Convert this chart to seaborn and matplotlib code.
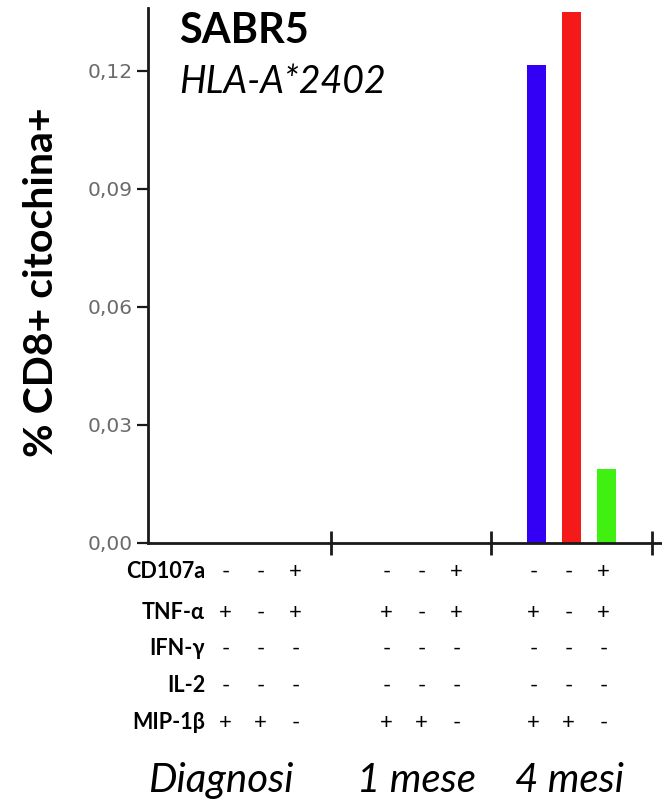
import matplotlib
matplotlib.use("Agg")
import matplotlib.pyplot as plt
import seaborn as sns
import pandas as pd
import numpy as np

# ---------------- data ----------------
groups = ["Diagnosi", "1 mese", "4 mesi"]
combos = ["TNF+MIP", "MIP", "CD107a+TNF"]
diagnosi_vals = [0.0, 0.0, 0.0]
mese1_vals = [0.0, 0.0, 0.0]
mesi4_vals = [0.1215, 0.135, 0.0188]
row_labels = ["CD107a", "TNF-\u03b1", "IFN-\u03b3", "IL-2", "MIP-1\u03b2"]
combo_signs = [["-", "+", "-", "-", "+"],
               ["-", "-", "-", "-", "+"],
               ["+", "+", "-", "-", "-"]]
ytick_vals = [0.00, 0.03, 0.06, 0.09, 0.12]
ytick_labels = ["0,00", "0,03", "0,06", "0,09", "0,12"]
bar_colors = ["#3300f5", "#f41a1a", "#40f010"]

# ---------------- layout ----------------
group_starts = [2.3, 6.9, 11.1]          # slot position of first combination in each group
group_ticks = [5.23, 9.8, 14.4]
group_label_x = [2.09, 7.66, 12.06]
row_y = [-0.065, -0.142, -0.209, -0.278, -0.347]   # axes fraction baselines

sns.set_style("white")
plt.rcParams["font.family"] = ["Lato", "DejaVu Sans"]
plt.rcParams["text.color"] = "black"

values = [diagnosi_vals, mese1_vals, mesi4_vals]
rows = []
for gi, g in enumerate(groups):
    for ci, c in enumerate(combos):
        rows.append({"group": g, "combo": c, "pos": group_starts[gi] + ci,
                     "value": values[gi][ci]})
df = pd.DataFrame(rows)

fig = plt.figure(figsize=(6.62, 8.02), dpi=100)
ax = fig.add_axes([148 / 662, 259 / 802, 1 - 148 / 662, 535 / 802])

sns.barplot(data=df, x="pos", y="value", hue="combo", hue_order=combos,
            palette=bar_colors, saturation=1, native_scale=True, dodge=False,
            legend=False, width=0.543, linewidth=0, errorbar=None, ax=ax)

ax.set_xlim(0, 14.69)
ax.set_ylim(0, 0.136)
ax.set_xlabel("")
ax.set_ylabel("")

for s in ["top", "right"]:
    ax.spines[s].set_visible(False)
for s in ["left", "bottom"]:
    ax.spines[s].set_linewidth(2)
    ax.spines[s].set_color("#1a1a1a")

ax.set_yticks(ytick_vals)
ax.set_yticklabels(ytick_labels, family="DejaVu Sans", fontsize=14.5, color="#6a6a6a")
ax.tick_params(axis="y", direction="out", length=8, width=1.6, color="#1a1a1a", pad=3, left=True)
ax.set_xticks(group_ticks)
ax.set_xticklabels([])
ax.tick_params(axis="x", direction="inout", length=17, width=2, color="#1a1a1a", bottom=True)

tr = ax.get_xaxis_transform()
# row labels
for ri, lab in enumerate(row_labels):
    ax.text(1.63, row_y[ri], lab, transform=tr, ha="right", va="baseline",
            fontsize=15.5, fontweight="bold", family=["Lato", "DejaVu Sans"])
# +/- signs
for gi in range(len(groups)):
    for ci in range(len(combos)):
        for ri in range(len(row_labels)):
            ax.text(group_starts[gi] + ci - 0.08, row_y[ri], combo_signs[ci][ri],
                    transform=tr, ha="center", va="baseline", fontsize=16)
# group labels
for gi, g in enumerate(groups):
    ax.text(group_label_x[gi], -0.465, g, transform=tr, ha="center", va="baseline",
            fontsize=29, fontstyle="italic")

# titles
ax.text(0.89, 0.935, "SABR5", transform=tr,
        ha="left", va="baseline", fontsize=30, fontweight="bold")
ax.text(0.89, 0.841, "HLA-A*2402", transform=tr, ha="left", va="baseline",
        fontsize=27, fontstyle="italic")

fig.text(42 / 662, 1 - 282 / 802, "% CD8+ citochina+", rotation=90,
         ha="center", va="center", fontsize=29.5, fontweight="bold")

fig.savefig("out.png", dpi=100)
